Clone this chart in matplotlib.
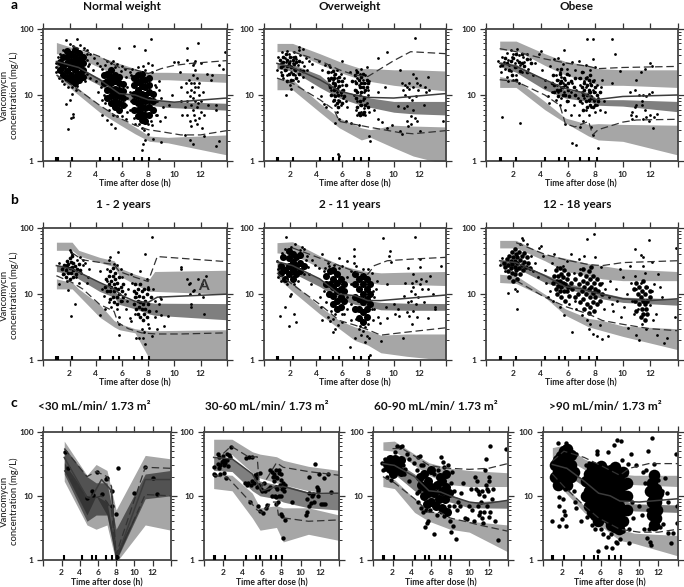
import numpy as np
import matplotlib
matplotlib.use('Agg')
import matplotlib.pyplot as plt
from matplotlib.ticker import FixedLocator, NullFormatter

plt.rcParams['font.family'] = ['Lato', 'DejaVu Sans']

W, H = 684, 587
BandCol = 'k'
TxtCol = '#222222'

rug_x = [1, 1.1, 2.2, 4.3, 5.35, 5.75, 6.9, 7.5, 8.1]
c1_rug_x = [2.3, 4.3, 5.35, 5.75, 6.9, 7.5, 8.05]

## a1 normal weight
a1_bx = [1, 2.2, 4.3, 5.8, 7, 8.1, 9.5, 14]
a1_up_hi = [62, 52, 38, 30, 25, 22, 22, 21]
a1_up_lo = [42, 40, 26, 19, 17, 17, 17, 15.5]
a1_mid_hi = [33, 29, 18, 11, 10, 8.8, 8, 7.5]
a1_mid_lo = [22, 23, 14, 9, 8, 7, 6.5, 5.9]
a1_low_hi = [21, 15, 7, 4.6, 3.3, 2.4, 2.3, 2.5]
a1_low_lo = [19, 12, 5.5, 3.6, 2.6, 2.0, 1.9, 1.25]
a1_med_x = [1, 2.7, 4.3, 5.8, 7, 8, 10, 14]
a1_med = [32, 26, 17, 10.5, 10, 8.5, 7.8, 9]
a1_dh_x = [2.2, 4.3, 5.8, 7, 8, 9, 10, 11.3, 14]
a1_dh = [55, 38, 26, 24, 21, 25, 28, 30, 33]
a1_dl_x = [1, 2.2, 4.3, 5.8, 7, 8, 9, 10.5, 12, 14]
a1_dl = [20, 14, 7, 4.5, 3.5, 3, 2.8, 2.5, 2.5, 2.9]
a1_pts = [(1.7, 68), (2.6, 71), (1.7, 7.3), (1.9, 3.1), (2.1, 4.5), (2.3, 5.2), (2.3, 4.7), (2.0, 8.5), (2.2, 10.5), (2.5, 12), (3.1, 52), (3.3, 48),
          (3.6, 41), (3.9, 36), (3.5, 29), (3.8, 24), (4.1, 30), (4.3, 27), (3.6, 18), (4.0, 16), (4.2, 11), (4.5, 8.5), (4.5, 5), (4.9, 4.2), (5.2, 3.6), (5.5, 3.2),
          (5.8, 52), (5.3, 33), (5.6, 29), (6.0, 27), (6.2, 25), (6.4, 5.5), (6.3, 4.3), (6.9, 54), (6.6, 22), (6.6, 11), (6.6, 6),
          (7.8, 47), (8.2, 71), (7.6, 27), (8.0, 30), (8.3, 28), (8.8, 16), (8.8, 12), (9.0, 9), (9.1, 6.5), (9.3, 4.7), (8.7, 5), (8.3, 3.5), (8.0, 2.6), (7.8, 2.1), (7.6, 1.85),
          (7.5, 1.5), (8.4, 2.2), (9.0, 1.95), (8.8, 1.1), (8.9, 4), (9.6, 7), (9.8, 10), (10, 31), (10.3, 31), (10.4, 22), (10.5, 13), (10.5, 8), (10.6, 5), (10.8, 2.5),
          (11, 52), (11, 8), (11, 5), (11.1, 17), (11.2, 4), (11.2, 2.1), (11.3, 12), (11.3, 7), (11.3, 3.4), (11.4, 28), (11.4, 20), (11.4, 9), (11.4, 6), (11.4, 1.8),
          (11.5, 30), (11.5, 15), (11.5, 11), (11.5, 5), (11.6, 24), (11.6, 8), (11.7, 18), (11.7, 6.5), (11.7, 3.7), (11.8, 61), (11.8, 13), (11.8, 7.5), (11.9, 10),
          (11.9, 4.5), (12, 30), (12, 8), (12, 5.5), (12.1, 3.2), (12.3, 2.4), (12.5, 21), (12.6, 7), (12.8, 17), (12.9, 20), (13.2, 7), (13.2, 6), (13.2, 1.7), (13.4, 28), (13.4, 2), (13.7, 25), (13.9, 45), (11, 34), (11.6, 33),
          (1.0, 30), (1.0, 22), (1.0, 26), (1.1, 37), (1.2, 18), (1.3, 42), (1.4, 16), (1.5, 47), (1.6, 14.5), (1.9, 13), (2.0, 58), (2.2, 13), (2.3, 54), (2.6, 13.5), (2.8, 56), (3.2, 16), (3.3, 21), (3.3, 34), (3.4, 27), (3.3, 42),
          (4.4, 13), (4.5, 25), (4.6, 10), (4.7, 28), (4.7, 7.5), (4.9, 33), (5.0, 6), (5.2, 30), (5.3, 5), (5.5, 26), (5.6, 4.8), (5.9, 23), (6.0, 4.9), (6.3, 19), (6.4, 9), (6.4, 13), (6.3, 7),
          (6.7, 20), (6.7, 8), (6.8, 25), (6.9, 4.5), (7.0, 3.7), (7.2, 26), (7.3, 3.6), (7.5, 3.2), (7.7, 3), (7.8, 24), (8.0, 3.6), (8.2, 4), (8.3, 22), (8.5, 14), (8.6, 5), (8.6, 13), (8.7, 8),
          (10.9, 15), (11.0, 11), (11.2, 9.5), (11.3, 15), (11.6, 4.2), (11.6, 13), (11.9, 15), (12.2, 11), (12.3, 5), (10.8, 6.5)]
a1_core = [(1.3, 24), (1.3, 32), (1.5, 20), (1.5, 27), (1.5, 37), (1.8, 18), (1.8, 23), (1.8, 30), (1.8, 38), (1.8, 46), (2.1, 16), (2.1, 20), (2.1, 26), (2.1, 33), (2.1, 42),
           (2.4, 15), (2.4, 19), (2.4, 24), (2.4, 30), (2.4, 37), (2.4, 47), (2.7, 17), (2.7, 21), (2.7, 27), (2.7, 34), (2.7, 43), (3.0, 19), (3.0, 24), (3.0, 30), (3.0, 38),
           (4.6, 15), (4.6, 20), (4.9, 9), (4.9, 12), (4.9, 16), (4.9, 21), (5.2, 7.5), (5.2, 9.5), (5.2, 12), (5.2, 15), (5.2, 19), (5.2, 24), (5.5, 6.5), (5.5, 8), (5.5, 10), (5.5, 12.5), (5.5, 16), (5.5, 20),
           (5.8, 6), (5.8, 7.5), (5.8, 9.5), (5.8, 12), (5.8, 15), (5.8, 19), (6.1, 7), (6.1, 9), (6.1, 11.5), (6.1, 14.5),
           (6.9, 6), (6.9, 8), (6.9, 10.5), (6.9, 14), (6.9, 18), (7.2, 4.8), (7.2, 6), (7.2, 7.5), (7.2, 9.5), (7.2, 12), (7.2, 15.5), (7.2, 20), (7.5, 4.2), (7.5, 5.2), (7.5, 6.5), (7.5, 8.2), (7.5, 10.5), (7.5, 13.5), (7.5, 17), (7.5, 21),
           (7.8, 4), (7.8, 5), (7.8, 6.3), (7.8, 8), (7.8, 10), (7.8, 13), (7.8, 17), (8.1, 5), (8.1, 6.5), (8.1, 8.5), (8.1, 11), (8.1, 14), (8.1, 18), (8.4, 6), (8.4, 8), (8.4, 10.5)]

## a2 overweight
a2_bx = [1, 2.2, 4.3, 5.8, 7.5, 8.2, 10, 11.5, 14]
a2_up_hi = [60, 60, 42, 32, 25, 25, 24, 24, 23]
a2_up_lo = [45, 46, 29, 22, 17, 16, 14, 13, 11.5]
a2_mid_hi = [30, 29, 20, 11.5, 10, 9, 8, 8, 8]
a2_mid_lo = [25, 23, 13, 9, 7, 6.5, 5.5, 5.2, 5]
a2_low_hi = [18, 17, 7.5, 4.5, 3.2, 3, 3.5, 3.4, 3.3]
a2_low_lo = [12, 12, 5.5, 3.2, 2.1, 2.3, 1.6, 1.2, 0.9]
a2_med_x = [1, 2.2, 4.3, 5.8, 7, 8, 10, 14]
a2_med = [30, 26, 17, 11.5, 10, 9.2, 9, 10.5]
a2_dh_x = [2.2, 4.3, 5.8, 7, 8, 9, 10, 11.3, 14]
a2_dh = [45, 33, 24, 20, 19, 25, 33, 45, 42]
a2_dl_x = [1, 2.2, 4.3, 5.4, 5.8, 7, 8, 10.5, 11.5, 14]
a2_dl = [18, 15, 8.5, 6, 4, 3.6, 3.3, 2.7, 2.6, 2.9]
a2_pts = [(1.7, 10), (1.0, 24), (1.1, 38), (1.3, 30), (1.3, 22), (1.4, 44), (1.5, 27), (1.5, 18), (1.6, 36), (1.7, 32), (1.7, 24), (1.8, 46), (1.8, 20), (1.9, 41), (2.0, 33), (2.0, 27), (2.0, 14), (2.1, 12.5), (2.1, 22),
          (2.2, 38), (2.2, 30), (2.2, 17), (2.3, 44), (2.3, 25), (2.4, 20), (2.5, 35), (2.6, 28), (2.6, 16), (2.7, 53), (2.7, 47), (2.8, 40), (2.8, 24), (2.9, 31), (3.0, 50), (3.0, 19), (3.1, 27), (3.2, 36), (3.3, 24), (3.5, 33), (3.7, 29), (3.7, 13), (4.2, 33), (4.5, 24), (4.4, 9.5), (4.6, 7.2), (4.8, 6.7), (4.7, 28), (5.0, 28), (4.9, 18),
          (5.0, 14), (5.1, 26), (5.2, 22), (5.2, 12), (5.3, 17), (5.3, 8), (5.4, 13), (5.4, 10), (5.4, 20), (5.5, 15), (5.5, 7), (5.5, 3.8), (5.6, 24), (5.6, 11), (5.6, 18), (5.6, 5.5), (5.7, 1.3), (5.7, 13), (5.7, 8.5), (5.8, 16), (5.8, 4.4), (5.8, 1.2), (5.9, 10), (5.9, 21), (5.9, 7), (6.0, 14), (6.0, 12), (6.0, 33), (6.1, 9), (6.2, 18), (6.3, 8), (6.3, 4), (6.4, 6.5), (6.6, 22), (6.7, 3.8), (6.9, 10), (7.0, 16), (7.1, 24), (7.1, 12), (7.1, 6), (7.2, 8), (7.2, 18), (7.2, 5), (7.3, 14), (7.3, 3.5), (7.4, 7), (7.4, 10), (7.4, 21), (7.5, 13), (7.5, 5.5), (7.5, 25), (7.6, 17), (7.6, 8.5), (7.7, 11), (7.7, 6.3), (7.8, 5), (7.8, 15), (7.8, 20), (7.9, 7.5), (7.9, 26), (8.0, 10), (8.0, 12), (8.1, 5.5), (8.1, 2.4), (8.2, 2), (8.1, 16), (8.5, 6), (8.8, 11), (8.8, 36), (8.8, 4.3), (9.1, 3.9), (9.3, 13), (9.5, 44), (9.5, 3.2), (9.9, 3.5), (10.3, 6.8), (10.5, 24), (10.5, 2.9), (10.6, 2.6),
          (10.6, 15), (10.7, 12), (10.8, 6.3), (10.9, 14), (10.9, 10), (11.0, 13), (11.0, 6.8), (11.0, 4), (11.1, 3.4), (11.2, 15), (11.2, 12.5), (11.2, 9.2), (11.3, 4.8), (11.3, 3.7), (11.4, 8.5), (11.5, 21), (11.5, 13), (11.5, 6), (11.6, 72), (11.6, 4.5), (11.7, 18), (11.7, 9.5), (11.8, 15), (11.8, 4), (11.9, 12), (12.0, 14), (12.0, 2.9), (12.3, 7), (12.4, 13), (12.5, 11), (12.6, 19), (12.7, 12), (13.8, 4), (14, 49)]
a2_core = [(1.2, 34), (1.3, 26), (1.4, 20), (1.5, 32), (1.5, 38), (1.6, 24), (1.7, 41), (1.8, 34), (1.8, 27), (1.8, 16), (1.9, 21), (1.9, 30), (2.0, 38), (2.1, 17), (2.1, 26), (2.2, 34), (2.2, 21), (2.3, 29), (2.4, 37), (2.4, 24), (2.5, 18), (2.5, 31), (2.7, 21), (2.7, 33), (3.0, 23),
           (4.9, 22), (5.0, 17), (5.1, 13), (5.2, 18), (5.2, 10), (5.3, 23), (5.3, 15), (5.4, 8.5), (5.4, 12), (5.4, 18), (5.5, 9.5), (5.5, 14), (5.5, 21), (5.6, 7.5), (5.6, 12.5), (5.7, 16), (5.7, 10), (5.7, 6.5), (5.8, 13.5), (5.8, 8), (5.8, 19), (5.9, 11), (6.0, 7.5), (6.0, 16), (6.1, 12), (6.2, 9.5), (6.3, 14),
           (6.8, 16), (7.0, 20), (7.0, 12), (7.1, 15), (7.1, 9), (7.2, 11), (7.2, 22), (7.2, 6.5), (7.3, 17), (7.3, 5.3), (7.4, 13), (7.4, 8), (7.4, 5), (7.5, 19), (7.5, 15), (7.5, 11), (7.5, 7), (7.6, 5.1), (7.6, 13), (7.6, 21), (7.7, 9), (7.7, 15), (7.7, 5.5), (7.8, 12), (7.8, 7), (7.9, 17), (7.9, 13), (8.0, 6.5), (8.0, 15)]

## a3 obese
a3_bx = [1, 2.2, 4.3, 5.8, 7.5, 8.2, 10, 14]
a3_up_hi = [65, 65, 42, 32, 28, 25, 24, 24]
a3_up_lo = [48, 47, 28, 20, 16, 14, 14, 13]
a3_mid_hi = [32, 29, 17, 12, 11, 8.5, 8.5, 8]
a3_mid_lo = [27, 22, 12, 9, 8, 7, 6.8, 5.6]
a3_low_hi = [19, 17, 8, 4.5, 3.6, 3.7, 3.6, 3.5]
a3_low_lo = [13, 13, 6, 3.8, 2.4, 2.1, 2, 1.25]
a3_med_x = [1, 2.2, 4.3, 5.8, 7, 8, 10, 14]
a3_med = [30, 27, 17, 12.5, 11, 8.5, 9.5, 10]
a3_dh_x = [1, 2.2, 4.3, 6, 7.5, 8.2, 10, 14]
a3_dh = [50, 45, 35, 30, 27, 25, 26, 27]
a3_dl_x = [1, 2.2, 4.3, 5.4, 5.8, 6.5, 7.5, 7.8, 8.2, 10, 11, 14]
a3_dl = [17, 16, 10, 7, 3.7, 3.3, 4, 2.5, 3, 3.9, 4.2, 4.3]
a3_pts = [(1.2, 4.6), (2.5, 3.8), (0.9, 33), (1.0, 27), (1.1, 22), (1.2, 38), (1.3, 31), (1.4, 25), (1.5, 43), (1.5, 19), (1.6, 34), (1.6, 16), (1.7, 28), (1.8, 48), (1.8, 23), (1.9, 37), (2.0, 17), (2.0, 42), (2.1, 30), (2.2, 26), (2.2, 20), (2.3, 49), (2.3, 34), (2.4, 15), (2.4, 40), (2.5, 28), (2.6, 22), (2.7, 37), (2.8, 32), (3.0, 42), (3.1, 25), (3.2, 35), (3.4, 20), (3.6, 30), (3.9, 42), (4.0, 46), (4.1, 24), (4.3, 17), (4.3, 13), (4.5, 9.5), (4.6, 7.5),
          (4.7, 27), (4.8, 11), (5.0, 35), (5.1, 20), (5.1, 8.5), (5.2, 14), (5.2, 25), (5.3, 17), (5.3, 11), (5.3, 36), (5.4, 7), (5.4, 22), (5.5, 13), (5.5, 19), (5.5, 9), (5.6, 29), (5.6, 15), (5.7, 48), (5.7, 11), (5.8, 17), (5.8, 6), (5.8, 3.6), (5.9, 25), (5.9, 13), (6.0, 8), (6.1, 20), (6.2, 11), (6.2, 5), (6.3, 15), (6.3, 31), (6.3, 1.9), (6.4, 7), (6.5, 24), (6.6, 1.75), (6.6, 12), (6.7, 9), (6.8, 18), (6.8, 5), (6.8, 33), (6.9, 14), (6.9, 3.3), (7.0, 11), (7.0, 7.5), (7.1, 22), (7.1, 4), (7.2, 16), (7.2, 9), (7.3, 13), (7.3, 28), (7.3, 6), (7.4, 71), (7.4, 19), (7.5, 11), (7.5, 5), (7.5, 8), (7.6, 15), (7.6, 24), (7.7, 6.5), (7.7, 3.3), (7.7, 9.5), (7.8, 71), (7.8, 12), (7.8, 35), (7.8, 2.5), (7.9, 17), (7.9, 8), (8.0, 5.5), (8.0, 26), (8.0, 11), (8.1, 7), (8.1, 14), (8.2, 1.6), (8.2, 9), (8.3, 6), (8.4, 13), (8.5, 17), (8.6, 8), (8.7, 5.5),
          (9.2, 71), (9.2, 15), (9.4, 41), (9.8, 23), (10.5, 11), (10.6, 5), (10.7, 5.5), (10.7, 4.3), (10.9, 12), (10.9, 6.5), (11.0, 7), (11.0, 17), (11.0, 4.8), (11.2, 10), (11.3, 22), (11.4, 8), (11.4, 7), (11.5, 10), (11.5, 4.4), (11.6, 25), (11.6, 6), (11.7, 4.7), (11.7, 9.5), (11.9, 10.5), (11.9, 4), (12.0, 30), (12.0, 5), (12.1, 27), (12.1, 11), (12.2, 3.2), (12.3, 4.6), (12.5, 5.2)]
a3_core = [(1.2, 28), (1.4, 36), (1.5, 30), (1.7, 24), (1.8, 33), (1.9, 20), (2.0, 36), (2.1, 26), (2.2, 42), (2.2, 17), (2.4, 32), (2.5, 23), (2.6, 30), (2.6, 42), (2.8, 27), (3.0, 22), (3.0, 35), (3.3, 30),
           (4.8, 15), (4.9, 20), (5.0, 11), (5.0, 14), (5.2, 17), (5.2, 12), (5.3, 9.5), (5.4, 21), (5.4, 15), (5.4, 12), (5.5, 25), (5.5, 16), (5.6, 10), (5.6, 13), (5.7, 18), (5.8, 14), (5.8, 10), (5.9, 21), (5.9, 8), (6.0, 15), (6.0, 12), (6.1, 9.5), (6.2, 16), (6.4, 13), (6.5, 10), (6.5, 18),
           (6.9, 8), (6.9, 18), (7.0, 13), (7.0, 22), (7.1, 10), (7.1, 6), (7.2, 15), (7.2, 12), (7.3, 18), (7.3, 8), (7.4, 14), (7.4, 10), (7.4, 6.5), (7.5, 17), (7.5, 12), (7.5, 8.5), (7.6, 20), (7.6, 11), (7.6, 7), (7.7, 14), (7.7, 9), (7.8, 16), (7.8, 6.5), (7.9, 11), (7.9, 8.5), (8.0, 13), (8.0, 7), (8.1, 10), (8.2, 8), (8.3, 11)]

## b1 1-2 years
b1_bx = [1, 2.2, 2.7, 4.3, 5.4, 5.8, 7, 8.1, 8.5, 14]
b1_up_hi = [61, 61, 46, 36, 32, 25, 20, 17, 22, 23]
b1_up_lo = [46, 46, 38, 30, 26, 19, 14, 11, 11, 10]
b1_mid_hi = [28, 26, 22, 15, 12, 9, 8, 7.5, 7.3, 7.2]
b1_mid_lo = [22, 20, 17, 11, 9, 7, 6, 5, 4.8, 4.1]
b1_low_hi = [17, 15, 12, 7, 4, 3.6, 3, 2.8, 2.8, 2.9]
b1_low_lo = [12, 12, 9.5, 4.5, 3.2, 2.9, 2.6, 1.05, 1.05, 1.05]
b1_med_x = [1, 2.2, 4.3, 5.4, 6, 7, 8, 8.7, 14]
b1_med = [27, 24, 15, 12, 9.5, 7.8, 7.5, 9, 10]
b1_dh_x = [2.2, 3, 5.4, 5.8, 7, 8, 8.7, 14]
b1_dh = [42, 33, 28, 22, 18, 15.5, 37, 31]
b1_dl_x = [1, 2.2, 3, 4.3, 5.4, 5.7, 6.5, 7.5, 8.6, 10.5, 14]
b1_dl = [19, 15, 12, 7, 5.5, 3.7, 3, 2.6, 2.5, 2.5, 2.6]
b1_pts = [(1.2, 14), (1.2, 30), (1.5, 26), (1.6, 20), (1.7, 28), (1.8, 16), (1.9, 11.5), (2.1, 4.7), (2.1, 43), (2.0, 47), (2.2, 40), (2.4, 7.2), (2.5, 18), (2.6, 33), (2.7, 15), (2.8, 37), (2.9, 21), (3.0, 28), (3.0, 33), (3.2, 30), (3.3, 15), (3.4, 18), (3.5, 24),
          (4.3, 4.9), (4.3, 22), (4.5, 12), (4.6, 9.5), (4.7, 6), (4.9, 24), (4.9, 16), (5.0, 7.5), (5.0, 33), (5.1, 36), (5.2, 6.5), (5.4, 29), (5.6, 28), (5.6, 6), (5.7, 43), (5.8, 4.5), (5.8, 3.5), (5.8, 2.4), (5.9, 24), (6.0, 8), (6.0, 18), (6.2, 10), (6.3, 6), (6.4, 8), (6.5, 12), (6.6, 4.3), (6.7, 3.9), (6.7, 20), (6.8, 15), (7.0, 5), (7.1, 9), (7.1, 2.2), (7.3, 2.2), (7.4, 22), (7.5, 3), (7.6, 2.2), (7.7, 2.7), (7.8, 1.75), (7.8, 40), (7.9, 17), (8.0, 13), (8.0, 3.5), (8.1, 3.1), (8.3, 74), (8.3, 2.3), (8.4, 12), (8.5, 8), (8.5, 4.5), (8.6, 5.5), (8.7, 3), (8.8, 7), (8.9, 9), (9.0, 4.8), (9.0, 8.5), (9.2, 3.3), (9.5, 4.7),
          (10.5, 26), (10.5, 24), (11.0, 17), (11.1, 14), (11.2, 15), (11.2, 10), (11.3, 7.2), (11.3, 6.5), (11.4, 11), (11.5, 11.5), (11.8, 17), (11.9, 10), (12.1, 14), (12.2, 9), (12.3, 5), (12.4, 19)]
b1_core = [(1.4, 24), (1.5, 20), (1.6, 28), (1.7, 23), (1.7, 18), (1.8, 26), (1.8, 32), (1.9, 21), (1.9, 29), (2.0, 17), (2.0, 25), (2.0, 35), (2.1, 31), (2.1, 21), (2.2, 26), (2.2, 38), (2.3, 18), (2.3, 23), (2.3, 30), (2.4, 27), (2.5, 20), (2.6, 24), (2.7, 29), (2.8, 23),
           (4.7, 13), (4.8, 17), (4.9, 11), (5.0, 19), (5.0, 14), (5.1, 8.5), (5.1, 22), (5.1, 11), (5.2, 16), (5.2, 13), (5.3, 25), (5.3, 9), (5.3, 19), (5.4, 7.5), (5.4, 14), (5.4, 11), (5.5, 17), (5.5, 21), (5.5, 12.5), (5.6, 9), (5.6, 15), (5.6, 7), (5.7, 12), (5.8, 10), (5.8, 18), (5.9, 8), (5.9, 13), (6.0, 11), (6.1, 14), (6.1, 9),
           (6.9, 7), (6.9, 11), (7.0, 9), (7.0, 14), (7.1, 6), (7.1, 10.5), (7.2, 5), (7.2, 8), (7.2, 12), (7.3, 6.5), (7.3, 9.5), (7.4, 14), (7.4, 4.5), (7.4, 7.5), (7.5, 11), (7.5, 6), (7.6, 9), (7.6, 4), (7.6, 7), (7.7, 12), (7.7, 5), (7.8, 8), (7.8, 6), (7.9, 10), (7.9, 4.5), (8.0, 7), (8.0, 12), (8.1, 5.5), (8.2, 9)]

## b2 2-11 years
b2_bx = [1, 2.2, 4.3, 5.8, 7, 8, 9, 11, 14]
b2_up_hi = [60, 62, 38, 28, 24, 22, 21, 21.5, 22]
b2_up_lo = [42, 40, 25, 18, 13, 15, 14, 14, 13.5]
b2_mid_hi = [32, 27, 17, 11, 9, 8, 7.5, 7.3, 7.2]
b2_mid_lo = [22, 21, 13, 8.5, 7, 6.5, 5.8, 5.7, 5.7]
b2_low_hi = [21, 15, 6.5, 4, 3.2, 2.8, 2.4, 2.5, 2.5]
b2_low_lo = [18, 11, 5, 3, 2, 1.7, 1.3, 1.15, 1]
b2_med_x = [1, 2.2, 4.3, 5.8, 7, 8, 9, 14]
b2_med = [31, 27, 17, 10, 9.5, 8, 8, 9.7]
b2_dh_x = [2.2, 4.3, 5.8, 7, 8, 8.5, 9.5, 11.5, 14]
b2_dh = [50, 35, 27, 22, 20, 27, 32, 34, 36]
b2_dl_x = [1, 2.2, 4.3, 5.8, 7, 8, 9, 10.5, 14]
b2_dl = [21, 14, 7, 4, 3.4, 2.9, 2.4, 2.6, 3.1]
b2_pts = [(1.2, 4.6), (1.7, 72), (1.6, 6.5), (1.9, 3.3), (2.1, 10), (2.0, 9.5), (2.3, 5), (2.5, 3.8), (2.4, 58), (2.9, 52), (3.1, 48), (3.3, 38), (3.5, 20), (3.6, 14), (3.7, 33), (3.9, 28), (4.2, 25), (4.3, 9), (4.4, 6.5), (4.5, 4), (4.5, 40), (4.9, 30), (4.9, 4.5), (5.1, 3.9), (5.3, 4.2), (5.3, 2.7), (5.5, 3), (5.7, 3.4), (5.8, 35), (6.0, 3.8), (6.2, 5), (6.4, 32),
          (6.0, 27), (6.6, 1.6), (6.7, 4), (6.9, 48), (6.9, 38), (6.9, 30), (7.0, 2.2), (7.3, 3), (7.5, 2.4), (7.6, 2.8), (7.8, 1.9), (7.9, 2.3), (8.1, 2.2), (8.2, 1.2), (8.3, 6), (8.5, 9), (8.6, 12), (8.7, 16), (8.8, 4.5), (8.9, 3.7), (9.0, 1.95), (9.2, 70), (9.4, 6.5), (9.5, 4.4), (9.5, 14), (9.6, 38), (9.7, 45), (9.8, 31), (10, 7.2), (10.1, 5), (10.3, 6), (10.4, 4.6), (10.7, 2.2), (10.8, 9.5), (10.9, 15), (11.0, 5.4), (11.1, 25), (11.1, 7.5), (11.2, 4.7), (11.3, 11), (11.3, 8), (11.4, 15), (11.4, 3.5), (11.5, 20), (11.5, 13), (11.5, 5.5), (11.6, 72), (11.6, 10), (11.7, 16), (11.7, 7), (11.8, 4.5), (11.9, 9), (12.0, 34), (12.0, 26), (12.0, 14), (12.1, 17), (12.2, 12), (12.3, 7.5), (12.5, 16), (12.6, 4.4), (12.6, 12), (12.8, 19), (13.6, 27), (13.0, 10), (13.2, 6.5), (13.2, 6),
          (1.0, 32), (1.1, 24), (1.1, 18), (1.3, 16), (1.4, 42), (1.6, 48), (1.8, 14), (2.1, 52), (2.3, 14), (2.6, 16), (2.8, 46), (3.1, 20), (3.2, 33), (3.4, 26), (4.6, 22), (4.6, 11), (4.7, 25), (4.8, 7.5), (5.0, 27), (5.2, 5.5), (5.4, 28), (5.5, 5), (5.8, 25), (6.0, 5), (6.4, 18), (6.4, 9), (6.4, 6), (6.7, 14), (6.7, 22), (6.7, 7), (7.1, 27), (7.1, 4.2), (7.4, 3.3), (7.6, 24), (7.8, 3.2), (8.0, 3.5), (8.0, 24), (8.3, 21), (8.4, 11), (8.5, 6), (8.4, 4)]
b2_core = [(1.3, 27), (1.3, 21), (1.5, 36), (1.6, 23), (1.6, 17), (1.9, 45), (1.9, 35), (1.9, 27), (1.9, 20), (2.2, 17), (2.2, 23), (2.2, 31), (2.2, 40), (2.5, 20), (2.5, 27), (2.5, 36), (2.8, 22), (2.8, 30), (2.8, 39),
           (3.1, 27), (4.8, 14), (4.8, 19), (5.0, 10), (5.1, 14), (5.1, 22), (5.3, 7), (5.3, 9.5), (5.3, 13), (5.3, 17), (5.3, 23), (5.6, 6), (5.6, 8), (5.6, 11), (5.6, 15), (5.6, 20), (5.9, 6.5), (5.9, 9), (5.9, 12), (5.9, 17), (6.2, 8), (6.2, 11), (6.2, 14),
           (7.0, 6), (7.0, 9), (7.0, 14), (7.0, 20), (7.3, 4.3), (7.3, 6), (7.3, 8.5), (7.3, 12), (7.3, 17), (7.6, 3.8), (7.6, 5.3), (7.6, 7.5), (7.6, 10), (7.6, 14), (7.6, 19), (7.9, 4.5), (7.9, 6), (7.9, 8.5), (7.9, 12), (7.9, 17), (8.2, 7), (8.2, 10), (8.2, 14)]

## b3 12-18 years
b3_bx = [1, 2.2, 4.3, 5.8, 7.5, 8.5, 10, 14]
b3_up_hi = [65, 65, 40, 35, 29, 27, 24, 22]
b3_up_lo = [50, 50, 32, 22, 19, 17, 16, 16]
b3_mid_hi = [32, 30, 20, 15, 12, 10.5, 9, 8.5]
b3_mid_lo = [27, 25, 15, 12, 10, 8.5, 7.5, 6.8]
b3_low_hi = [20, 19, 10, 6, 4.3, 4, 3.3, 3]
b3_low_lo = [15, 14.5, 9, 4.8, 3.2, 2.8, 2.3, 1.45]
b3_med_x = [1, 2.2, 4.3, 5.8, 7, 8, 10, 12, 14]
b3_med = [32, 30, 19, 13, 12, 10.5, 8.5, 8, 8.5]
b3_dh_x = [2.2, 4.3, 5.8, 7.5, 8.5, 10, 14]
b3_dh = [60, 40, 33, 28, 27, 30, 32]
b3_dl_x = [2.2, 4.3, 5.8, 7.5, 8.5, 10, 12, 14]
b3_dl = [16, 9, 6.5, 5, 4, 3.5, 3, 2.8]
b3_pts = [(1.0, 28), (1.2, 35), (1.4, 22), (1.6, 10.5), (2.1, 12), (2.3, 11), (2.3, 6), (2.5, 58), (2.6, 70), (2.7, 67), (3.0, 58), (3.3, 38), (3.4, 22), (3.6, 30), (3.8, 18), (3.9, 50), (4.0, 53), (4.2, 38), (4.3, 23), (4.4, 15), (4.5, 9), (4.7, 11), (4.8, 30), (4.9, 8), (5.0, 40), (5.2, 26), (5.4, 6.5), (5.6, 27), (5.7, 4.8), (5.9, 32), (6.1, 7), (6.2, 40), (6.3, 2.7), (6.4, 21), (6.5, 8), (6.6, 6), (6.8, 34), (6.9, 24), (7.0, 4.8), (7.2, 38), (7.4, 68), (7.4, 4), (7.5, 3), (7.6, 3.6), (7.8, 2.5), (7.9, 80), (8.0, 36), (8.1, 2.3), (8.3, 3.4), (8.4, 26), (8.5, 15), (8.5, 2.1), (8.6, 6), (8.7, 12), (8.9, 2.3), (9.0, 9), (9.1, 16), (9.2, 7), (9.3, 5.5), (9.5, 12), (9.6, 8), (9.8, 24), (9.9, 4.5), (10.0, 18), (10.1, 6.5), (10.3, 10), (10.4, 3.1), (10.5, 27), (10.6, 15), (10.7, 8), (10.8, 5), (10.9, 48), (10.9, 19), (11.0, 12), (11.0, 2.4), (11.1, 6), (11.2, 2), (11.3, 39), (11.3, 15), (11.4, 3.6), (11.5, 27), (11.5, 37), (11.6, 21), (11.7, 3), (11.8, 13), (11.9, 66), (12.0, 6.8), (12.1, 31), (12.1, 11), (12.2, 4), (12.3, 14), (12.4, 5), (12.5, 2.4), (12.6, 20), (12.7, 13), (12.9, 9), (13.0, 1.85), (13.2, 2.2), (13.8, 4.5), (13.9, 50)]
b3_core = [(1.3, 30), (1.4, 26), (1.5, 34), (1.6, 22), (1.6, 28), (1.7, 38), (1.7, 18), (1.8, 32), (1.8, 25), (1.9, 44), (1.9, 21), (1.9, 29), (2.0, 36), (2.0, 16), (2.1, 26), (2.1, 32), (2.1, 48), (2.1, 20), (2.2, 40), (2.2, 23), (2.3, 30), (2.3, 17), (2.3, 36), (2.4, 25), (2.4, 44), (2.5, 20), (2.5, 33), (2.6, 28), (2.6, 38), (2.7, 23), (2.8, 31), (2.8, 42), (2.9, 26), (3.0, 36), (3.1, 30), (3.2, 25),
           (4.9, 15), (5.0, 19), (5.1, 12), (5.1, 23), (5.2, 16), (5.2, 10), (5.3, 19), (5.3, 13.5), (5.4, 25), (5.4, 11), (5.4, 16), (5.5, 9), (5.5, 20), (5.5, 13), (5.6, 15), (5.6, 18), (5.7, 11), (5.7, 23), (5.8, 14), (5.8, 8), (5.9, 17), (5.9, 11), (6.0, 13), (6.0, 20), (6.1, 9.5), (6.2, 15), (6.3, 12), (6.5, 17), (6.5, 9),
           (6.7, 10), (6.8, 14), (6.9, 20), (6.9, 7.5), (7.0, 11), (7.1, 16), (7.1, 8.5), (7.1, 24), (7.2, 13), (7.2, 6), (7.3, 19), (7.3, 10), (7.4, 15), (7.4, 7), (7.5, 12), (7.5, 22), (7.5, 5.2), (7.6, 9), (7.6, 17), (7.6, 6.3), (7.7, 13), (7.7, 26), (7.8, 10.5), (7.8, 7.5), (7.8, 19), (7.9, 15), (7.9, 5.5), (8.0, 12), (8.0, 9), (8.1, 7), (8.1, 17), (8.2, 11), (8.3, 14), (8.3, 8), (8.5, 10),
           (10.8, 12), (10.9, 8), (11.0, 15), (11.0, 5.5), (11.1, 10), (11.2, 13), (11.2, 7), (11.3, 4.5), (11.3, 9), (11.4, 11), (11.4, 6), (11.5, 16), (11.5, 8), (11.5, 5), (11.6, 4), (11.6, 7), (11.6, 10), (11.7, 13), (11.7, 6), (11.8, 8), (11.8, 5), (12.0, 9), (12.0, 11)]

## c1 <30
c1_bx = [2.3, 4.8, 5.8, 7, 8, 11.2, 14]
c1_up_hi = [72, 21, 31, 25, 6, 43, 38]
c1_up_lo = [25, 5, 10, 5, 1, 10, 10]
c1_mid_hi = [58, 20, 16, 16, 3, 22, 25]
c1_mid_lo = [22, 4, 5, 5, 0.95, 9, 10]
c1_low_hi = [33, 10, 10, 8, 1.3, 10, 10]
c1_low_lo = [17, 3.5, 3, 3.5, 0.9, 3.5, 2.9]
c1_med_x = [2.3, 4.8, 5.4, 6.4, 7.5, 8, 11.2, 14]
c1_med = [40, 9.5, 10, 18, 12, 1, 18, 18]
c1_dh_x = [2.3, 4.8, 5.8, 6.4, 7, 7.5, 8, 11.2, 14]
c1_dh = [55, 20, 24, 22, 20, 14, 1.2, 28, 27]
c1_dl_x = [2.3, 4.8, 5.4, 6.4, 7, 7.5, 8, 11.2, 14]
c1_dl = [25, 9.3, 9, 10, 8, 6, 1, 10.5, 10]
c1_pts = [(2.4, 48.6), (2.67, 27), (4.8, 9.1), (5.4, 12), (5.5, 10.3), (5.85, 24), (6.4, 10.8), (6.85, 18.6), (7, 19), (7.5, 12), (7.5, 7), (8, 5.2), (8.25, 27), (8.1, 1.1), (10, 11), (11.2, 28), (12.1, 18.7), (12.45, 10.6)]
c1_core = []

## c2 30-60
c2_bx = [1, 2.9, 5, 5.8, 7.5, 8.2, 10.8, 14]
c2_up_hi = [77, 77, 49, 45, 41, 36, 29, 25]
c2_up_lo = [42, 44, 23, 19, 16, 15, 12, 11]
c2_mid_hi = [40, 38, 22, 17, 15, 15, 11.5, 11]
c2_mid_lo = [25, 24, 12, 10, 9, 8, 6.5, 6]
c2_low_hi = [22, 21, 11, 6.5, 7, 6.5, 6.5, 5]
c2_low_lo = [13, 12, 4.5, 2.9, 3.2, 1.9, 2.5, 2]
c2_med_x = [1, 2.9, 5, 6, 7.5, 8.2, 10.8, 14]
c2_med = [40, 38, 22, 12, 14, 14, 11, 11]
c2_dh_x = [2, 2.8, 4.7, 5.5, 5.7, 6, 7.5, 8.2, 10.8, 14]
c2_dh = [46, 60, 40, 41, 17, 14, 33, 28, 24, 21]
c2_dl_x = [1, 2.5, 4.8, 5.5, 6, 7, 7.5, 7.7, 8.3, 10.8, 14]
c2_dl = [21, 19, 8, 6, 5.5, 8, 8, 5, 4.5, 4, 4.2]
c2_pts = [(1.0, 28), (1.0, 22), (1.1, 21), (1.4, 32), (1.6, 27), (1.7, 22), (1.7, 30), (1.9, 34), (2.0, 35), (2.1, 30), (2.1, 23), (2.2, 33), (2.3, 19), (2.4, 46), (2.4, 36), (2.5, 29), (2.6, 43), (2.7, 40), (2.8, 59), (1.5, 46), (1.6, 41), (2.0, 42), (2.1, 37), (4.3, 39), (4.7, 41), (5.0, 41),
          (4.2, 16), (4.4, 15), (4.6, 16), (4.9, 15), (4.8, 8), (5.0, 17), (5.2, 16), (5.3, 21), (5.4, 19), (5.5, 22), (5.5, 14), (5.6, 7), (5.7, 15), (5.8, 5.7), (5.8, 23), (5.9, 13), (6.0, 12), (6.1, 5.4), (6.2, 16), (6.3, 12), (6.4, 6.5), (6.5, 7.2), (6.6, 13), (6.8, 25), (6.8, 14), (7.0, 10), (7.0, 24), (7.1, 20), (7.2, 17), (7.2, 22), (7.3, 10), (7.4, 25), (7.4, 14), (7.5, 9.6), (7.5, 20), (7.5, 7.5), (7.6, 13), (7.6, 19), (7.7, 8), (7.8, 25), (7.8, 23), (7.8, 10), (7.9, 15), (8.0, 10), (8.0, 18), (8.0, 5.2), (8.0, 22), (8.1, 13), (8.1, 4.8), (8.2, 16), (8.2, 2.2), (8.3, 14), (8.3, 12), (8.4, 4.2), (8.4, 15), (9.1, 8),
          (10.6, 5), (10.7, 5.5), (10.7, 8.8), (10.9, 7), (10.9, 20), (10.9, 11), (11.1, 7.8), (11.2, 10), (11.3, 10.8), (11.4, 8), (11.5, 31), (11.7, 14), (11.8, 13), (11.8, 10), (11.9, 22), (12.1, 7.5), (12.3, 7.5), (12.4, 19), (12.5, 7.5), (12.8, 22), (13.1, 11.5), (11.8, 12)]
c2_core = []

## c3 60-90
c3_bx = [1, 2.2, 4.3, 5.8, 8, 10, 14]
c3_up_hi = [70, 72, 45, 33, 27, 25, 23]
c3_up_lo = [52, 50, 30, 21, 15, 14, 14]
c3_mid_hi = [40, 35, 22, 13, 10.5, 8, 8.6]
c3_mid_lo = [25, 22, 12, 9, 8, 6.5, 6.4]
c3_low_hi = [20, 18, 9, 6, 4.5, 4, 3.5]
c3_low_lo = [14, 13, 5.5, 4, 3, 2.7, 1.33]
c3_med_x = [1, 2.2, 4.3, 5.8, 7, 8, 10, 11.5, 14]
c3_med = [32, 30, 20, 12, 11.5, 10, 8, 7.5, 8.5]
c3_dh_x = [2, 3, 4.3, 5.8, 7, 8, 10, 12, 14]
c3_dh = [55, 55, 42, 30, 28, 27, 26, 27, 32]
c3_dl_x = [1, 2.2, 4.3, 5.8, 7, 8, 9.5, 11, 14]
c3_dl = [20, 16, 9, 5.5, 5.5, 4.5, 4, 3.5, 2.8]
c3_pts = [(0.9, 33), (1.0, 25), (1.2, 38), (1.4, 20), (1.8, 18), (2.3, 48), (2.5, 60), (2.8, 58), (3.0, 60), (3.2, 22), (3.5, 46), (3.7, 38), (3.7, 17), (4.2, 33), (4.7, 41), (4.9, 42), (5.0, 30), (4.5, 11), (4.7, 8), (5.0, 6.5), (5.2, 5.5), (5.4, 3.2), (5.6, 3.7), (5.7, 4), (6.3, 2.5), (6.6, 5), (7.0, 41), (7.3, 34), (7.8, 30), (8.0, 4), (8.1, 2.7), (8.3, 3.4), (8.6, 2.1), (8.7, 6), (8.8, 8), (9.0, 7), (9.1, 11), (9.3, 16), (9.5, 4.5), (9.8, 4.3), (10.0, 7), (10.2, 13), (10.3, 6), (10.5, 4), (10.6, 20), (10.7, 13), (10.8, 17), (10.9, 7), (11.0, 5), (11.0, 10.5), (11.2, 8), (11.3, 12), (11.3, 4.5), (11.4, 3.8), (11.5, 10), (11.5, 5.5), (11.6, 25), (11.7, 38), (11.7, 15), (11.8, 7), (11.9, 12), (12.0, 20), (12.0, 4.7), (12.1, 17), (12.2, 61), (12.2, 5.5), (12.4, 9), (12.5, 13), (12.7, 4), (13.0, 2), (13.8, 55), (10.9, 12), (11.1, 5.5), (11.8, 13),
          (1.2, 26), (3.1, 30), (3.3, 26), (4.6, 25), (4.8, 12), (5.2, 30), (5.5, 6), (5.9, 6), (6.3, 22), (6.7, 25), (7.0, 5.5), (7.4, 28), (7.4, 4.8), (7.9, 7), (8.1, 16), (8.2, 24), (8.4, 12), (8.4, 7)]
c3_core = [(1.4, 32), (1.7, 26), (1.7, 38), (2.0, 22), (2.0, 32), (2.3, 26), (2.3, 38), (2.6, 30), (2.9, 24), (2.9, 36), (4.9, 20), (5.0, 15), (5.3, 10), (5.3, 14), (5.3, 22), (5.6, 7.5), (5.7, 11), (5.7, 17), (6.0, 8), (6.0, 14), (6.0, 25), (6.3, 11), (6.5, 7), (6.6, 15), (6.8, 9), (6.9, 20), (7.2, 6.5), (7.2, 12), (7.2, 17), (7.5, 9), (7.6, 14), (7.6, 22), (7.7, 5.5), (7.9, 11)]

## c4 >90
c4_bx = [1, 2.2, 4.3, 5.8, 7, 8, 9.5, 14]
c4_up_hi = [57, 62, 38, 30, 25, 22, 21, 21]
c4_up_lo = [40, 40, 26, 19, 16, 15, 15, 14]
c4_mid_hi = [33, 29, 18, 11, 10, 8.5, 7.5, 7.2]
c4_mid_lo = [22, 23, 14, 9, 8, 7, 5.8, 5.5]
c4_low_hi = [21, 15, 7, 4.6, 3.3, 3, 2.6, 2.4]
c4_low_lo = [19, 12, 5.5, 3.6, 2.6, 2, 1.8, 1.15]
c4_med_x = [1, 2.5, 4.3, 5.8, 7, 8, 10, 14]
c4_med = [31, 27, 17, 11, 10, 8.3, 8, 9]
c4_dh_x = [1, 2.2, 4.3, 6, 8, 9, 11, 14]
c4_dh = [35, 50, 40, 30, 21, 27, 32, 32]
c4_dl_x = [1, 2.2, 4.3, 5.8, 8, 10, 12, 14]
c4_dl = [22, 14, 7, 4.5, 3, 2.7, 2.7, 3]
c4_pts = [(1.0, 4), (1.7, 3.4), (2.0, 4.4), (2.2, 5.7), (2.3, 5), (2.4, 3.4), (1.7, 7), (1.7, 9.5), (2.1, 9), (2.3, 13), (2.4, 68), (1.6, 68), (2.5, 60), (3.5, 46), (3.2, 12), (3.3, 8), (3.5, 6.5), (4.0, 4), (4.6, 4.6), (5.1, 3.5), (5.4, 3), (5.7, 1.35), (5.6, 50), (5.6, 45), (4.5, 30), (4.8, 33), (6.0, 3), (6.3, 2.5), (6.6, 1.6), (6.8, 2.3), (6.8, 49), (7.1, 2.5), (7.2, 1.5), (7.4, 63), (7.6, 1.9), (7.7, 76), (8.1, 73), (8.0, 2.1), (8.2, 36), (7.7, 1.8), (8.3, 2.8), (9.0, 3), (9.0, 1.8), (9.2, 45), (9.3, 8), (9.4, 4.5), (8.8, 32), (9.7, 30), (10.0, 7), (10.3, 5), (10.4, 24), (10.5, 3), (10.7, 25), (10.8, 2.2), (10.9, 50), (11.1, 9), (11.1, 1.9), (11.2, 1.7), (11.3, 80), (11.5, 32), (12.0, 18), (12.2, 9), (12.4, 12), (12.5, 3.6), (12.7, 19), (12.9, 11), (13.0, 8), (13.0, 2.6), (13.3, 1.8), (13.8, 46), (13.9, 3.8), (13.9, 7), (11.0, 3), (12.2, 3.2), (10.6, 16), (10.9, 6), (13.5, 2.6)]
c4_core = [(1.3, 20), (1.3, 30), (1.6, 15), (1.6, 24), (1.6, 36), (1.9, 17), (1.9, 28), (1.9, 42), (2.2, 20), (2.2, 32), (2.2, 50), (2.5, 15), (2.5, 24), (2.5, 38), (2.5, 55), (2.9, 20), (2.9, 30), (2.9, 44), (3.2, 24),
           (4.5, 10), (4.5, 17), (4.8, 7), (4.8, 12), (4.8, 22), (5.1, 5.5), (5.1, 9), (5.1, 15), (5.1, 28), (5.4, 5), (5.4, 7), (5.4, 11), (5.4, 19), (5.7, 4), (5.7, 6), (5.7, 9), (5.7, 14), (5.7, 24), (6.0, 5), (6.0, 8), (6.0, 12), (6.0, 19), (6.0, 29), (6.4, 6), (6.4, 10), (6.4, 16), (6.4, 25),
           (6.8, 4.5), (6.8, 7.5), (6.8, 12), (6.8, 19), (7.1, 3.5), (7.1, 5.5), (7.1, 9), (7.1, 15), (7.1, 25), (7.5, 3.2), (7.5, 5), (7.5, 8), (7.5, 13), (7.5, 21), (7.5, 28), (7.9, 3), (7.9, 4.5), (7.9, 7), (7.9, 11), (7.9, 18), (8.3, 4), (8.3, 6), (8.3, 10), (8.3, 15), (8.3, 24), (8.7, 6), (8.7, 10), (8.7, 16),
           (11.1, 12), (11.3, 5), (11.3, 8), (11.3, 16), (11.5, 3.5), (11.5, 6), (11.5, 10), (11.5, 21), (11.7, 4.5), (11.7, 8), (11.7, 13), (12.0, 11), (11.9, 6)]

titles = {'a1': 'Normal weight', 'a2': 'Overweight', 'a3': 'Obese',
          'b1': '1 - 2 years', 'b2': '2 - 11 years', 'b3': '12 - 18 years',
          'c1': '<30 mL/min/ 1.73 m²', 'c2': '30-60 mL/min/ 1.73 m²', 'c3': '60-90 mL/min/ 1.73 m²', 'c4': '>90 mL/min/ 1.73 m²'}

# left, right, top, bottom of each panel in pixels, title x, xlabel x, title y, xlabel y
layout = {'a1': (43.3, 226.7, 28.7, 161.3, 122, 135, 6, 184),
          'a2': (264, 445.7, 28.7, 161.3, 349.5, 354.5, 6, 184),
          'a3': (486, 677.5, 28.7, 161.3, 576.7, 581, 6, 184),
          'b1': (43.3, 226.7, 228, 360.3, 123, 135, 204, 383),
          'b2': (264, 445.7, 228, 360.3, 350, 354.5, 204, 383),
          'b3': (486, 677.5, 228, 360.3, 577, 581, 204, 383),
          'c1': (43.3, 170.7, 432, 559.7, 94.5, 107, 406, 583),
          'c2': (204, 339.3, 432, 559.7, 267, 271.7, 406, 583),
          'c3': (373.3, 507.7, 432, 559.7, 436, 441, 406, 583),
          'c4': (542.7, 677.7, 432, 559.7, 605, 610, 406, 583)}
core_size = {'a1': 26, 'a2': 7, 'a3': 7, 'b1': 7, 'b2': 26, 'b3': 11, 'c1': 10, 'c2': 10, 'c3': 42, 'c4': 70}

fig = plt.figure(figsize=(W / 100, H / 100), dpi=100)
g = globals()

for name in layout:
    l, r, t, b, tx, xx, ty, xy = layout[name]
    ax = fig.add_axes([l / W, 1 - b / H, (r - l) / W, (b - t) / H])
    bx = g[name + '_bx']
    ax.fill_between(bx, g[name + '_up_lo'], g[name + '_up_hi'], color=BandCol, alpha=0.35, lw=0, zorder=1)
    ax.fill_between(bx, g[name + '_mid_lo'], g[name + '_mid_hi'], color=BandCol, alpha=0.5, lw=0, zorder=1)
    ax.fill_between(bx, g[name + '_low_lo'], g[name + '_low_hi'], color=BandCol, alpha=0.35, lw=0, zorder=1)

    # small dots in rows a, b and big dots in row c
    s_pt = 10 if name[0] == 'c' else 4
    pts = np.array(g[name + '_pts'])
    ax.scatter(pts[:, 0], pts[:, 1], s=s_pt, color='k', lw=0, zorder=2)
    core = g[name + '_core']
    if len(core) > 0:
        core = np.array(core)
        ax.scatter(core[:, 0], core[:, 1], s=core_size[name], color='k', lw=0, zorder=2)

    ax.plot(g[name + '_med_x'], g[name + '_med'], color='#3c3c3c', lw=1.1, zorder=3)
    ax.plot(g[name + '_dh_x'], g[name + '_dh'], color='#333333', lw=0.9, ls=(0, (6, 3)), zorder=3)
    ax.plot(g[name + '_dl_x'], g[name + '_dl'], color='#333333', lw=0.9, ls=(0, (6, 3)), zorder=3)

    ax.vlines(c1_rug_x if name == 'c1' else rug_x, 1, 1.18, color='k', lw=1.5, zorder=4)

    ax.set_yscale('log')
    ax.set_xlim(0, 14)
    ax.set_ylim(1, 100)
    ax.set_xticks(np.arange(0, 15, 2))
    ax.set_xticklabels(['', '2', '4', '6', '8', '10', '12', ''])
    ax.set_yticks([1, 10, 100])
    ax.set_yticklabels(['1', '10', '100'])
    ax.yaxis.set_minor_locator(FixedLocator([2, 3, 4, 5, 6, 7, 8, 9, 20, 30, 40, 50, 60, 70, 80, 90]))
    ax.yaxis.set_minor_formatter(NullFormatter())
    ax.tick_params(axis='both', which='major', direction='out', length=4, width=0.9, color='#333333', top=True, right=True,
                   labelsize=6, labelcolor=TxtCol, pad=3)
    ax.tick_params(axis='y', which='minor', direction='out', length=2.3, width=0.7, color='#333333', right=True)
    for lab in ax.get_xticklabels() + ax.get_yticklabels():
        lab.set_fontweight('bold')
    for sp in ax.spines.values():
        sp.set_color('#444444')
        sp.set_linewidth(1.3)

    fig.text(tx / W, 1 - ty / H, titles[name], fontsize=8.5, fontweight='bold', color='#111111', ha='center', va='center')
    fig.text(xx / W, 1 - xy / H, 'Time after dose (h)', fontsize=6.2, fontweight='bold', color=TxtCol, ha='center', va='center')

    if name == 'b1':
        ax.text(12.2, 13.2, 'A', fontsize=11, fontweight='bold', color='#333333', ha='center', va='center', zorder=5)

for lab, y in [('a', 5), ('b', 200), ('c', 403)]:
    fig.text(14 / W, 1 - y / H, lab, fontsize=10, fontweight='bold', color='k', ha='center', va='center')

for y in [95, 295, 501]:
    fig.text(9.5 / W, 1 - y / H, 'Vancomycin\nconcentration (mg/L)', fontsize=6.8, color=TxtCol, rotation=90,
             ha='center', va='center', linespacing=1.15, fontweight='medium')

plt.savefig('out.png', dpi=100)
plt.close()
